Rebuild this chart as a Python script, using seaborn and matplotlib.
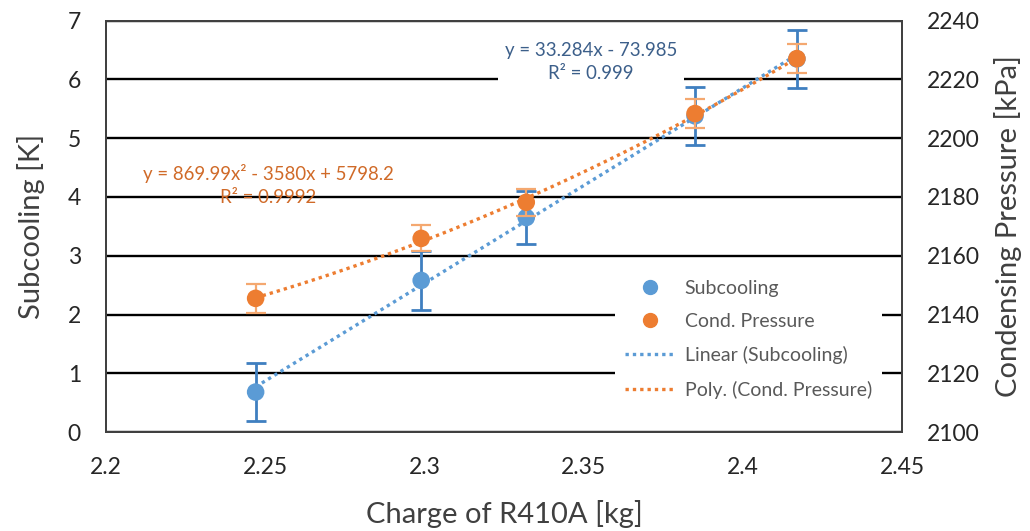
import numpy as np
import pandas as pd
import matplotlib
matplotlib.use('Agg')
import matplotlib.pyplot as plt
import seaborn as sns
from matplotlib.lines import Line2D

# data
charge = [2.247, 2.299, 2.332, 2.385, 2.417]
subcooling = [0.68, 2.58, 3.65, 5.38, 6.35]
subcooling_err = [0.5, 0.5, 0.45, 0.5, 0.5]
pressure = [2145.5, 2165.9, 2178.2, 2208.4, 2227.1]
pressure_err = [5.0, 4.4, 4.6, 4.8, 4.9]

left_ticks = [0, 1, 2, 3, 4, 5, 6, 7]
right_ticks = [2100, 2120, 2140, 2160, 2180, 2200, 2220, 2240]
x_ticks = [2.2, 2.25, 2.3, 2.35, 2.4, 2.45]

blue = '#5B9BD5'
blue_err = '#3F7FC0'
orange = '#ED7D31'
orange_err = '#F4A870'
txt = '#262626'

sns.set_theme(style='white')
plt.rcParams['font.family'] = ['Lato', 'DejaVu Sans']

df = pd.DataFrame({'charge': charge, 'sub': subcooling, 'pres': pressure})

fig = plt.figure(figsize=(10.3, 5.31), dpi=100)
ax1 = fig.add_axes([0.1029, 0.1864, 0.7728, 0.7746])
ax2 = ax1.twinx()

# trendlines
lin = np.polyfit(charge, subcooling, 1)
poly = np.polyfit(charge, pressure, 2)
xs = np.linspace(min(charge), max(charge), 100)
sns.lineplot(x=xs, y=np.polyval(lin, xs), ax=ax1, color=blue, lw=2.4,
             linestyle=(0, (1, 1.2)), zorder=3)
sns.lineplot(x=xs, y=np.polyval(poly, xs), ax=ax2, color=orange, lw=2.4,
             linestyle=(0, (1, 1.2)), zorder=3)

# points with error bars
ax1.errorbar(charge, subcooling, yerr=subcooling_err, fmt='none',
             ecolor=blue_err, elinewidth=2, capsize=7, capthick=2, zorder=4)
sns.scatterplot(data=df, x='charge', y='sub', ax=ax1, color=blue, s=160,
                edgecolor='none', zorder=5)
ax2.errorbar(charge, pressure, yerr=pressure_err, fmt='none',
             ecolor=orange_err, elinewidth=1.6, capsize=7, capthick=1.6, zorder=4)
sns.scatterplot(data=df, x='charge', y='pres', ax=ax2, color=orange, s=160,
                edgecolor='none', zorder=5)

ax1.set_xlim(2.2, 2.45)
ax1.set_ylim(0, 7)
ax2.set_ylim(2100, 2240)
ax1.set_xticks(x_ticks)
ax1.set_xticklabels(['2.2', '2.25', '2.3', '2.35', '2.4', '2.45'])
ax1.set_yticks(left_ticks)
ax2.set_yticks(right_ticks)

ax1.yaxis.grid(True, color='black', lw=1.7)
ax1.xaxis.grid(False)
ax2.grid(False)

for ax in (ax1, ax2):
    ax.tick_params(length=0, pad=18, labelsize=16.5, colors=txt)
    for sp in ax.spines.values():
        sp.set_color('#404040')
        sp.set_linewidth(1.3)

ax1.set_xlabel('Charge of R410A [kg]', fontsize=21, color='#404040', labelpad=16)
ax1.set_ylabel('Subcooling [K]', fontsize=21, color='#404040', labelpad=16)
ax2.set_ylabel('Condensing Pressure [kPa]', fontsize=21, color='#404040', labelpad=10)

# trendline labels
ax2.text(0.609, 0.9, 'y = 33.284x - 73.985\nR² = 0.999', transform=ax1.transAxes,
         ha='center', va='center', fontsize=13.4, color='#3C5F8A', linespacing=1.4,
         bbox=dict(facecolor='white', edgecolor='none', pad=5), zorder=6)
ax2.text(0.204, 0.6, 'y = 869.99x² - 3580x + 5798.2\nR² = 0.9992', transform=ax1.transAxes,
         ha='center', va='center', fontsize=13.4, color='#D06A28', linespacing=1.4,
         zorder=6)

handles = [
    Line2D([], [], marker='o', ls='none', color=blue, markersize=10),
    Line2D([], [], marker='o', ls='none', color=orange, markersize=10),
    Line2D([], [], color=blue, lw=2.4, ls=(0, (1, 1.2))),
    Line2D([], [], color=orange, lw=2.4, ls=(0, (1, 1.2))),
]
labels = ['Subcooling', 'Cond. Pressure', 'Linear (Subcooling)', 'Poly. (Cond. Pressure)']
leg = ax2.legend(handles, labels, loc='upper left', bbox_to_anchor=(0.627, 0.418),
                 frameon=True, facecolor='white', edgecolor='none', framealpha=1,
                 fontsize=14, labelcolor='#595959', handlelength=2.6,
                 handletextpad=0.5, labelspacing=0.84, borderpad=0.5)
leg.set_zorder(7)

fig.savefig('out.png', dpi=100)
